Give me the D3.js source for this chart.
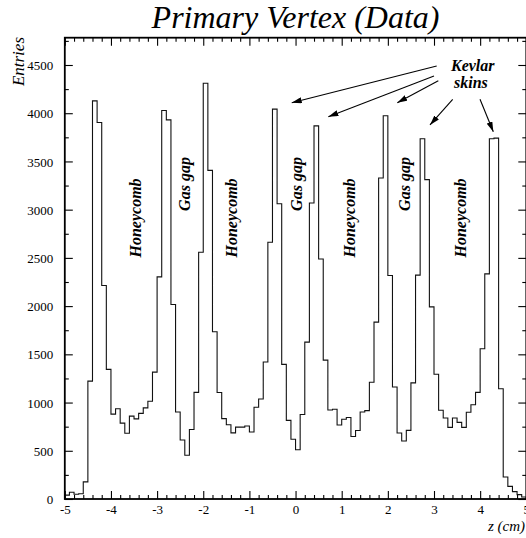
<!DOCTYPE html>
<html>
<head>
<meta charset="utf-8">
<script src="https://cdn.jsdelivr.net/npm/d3@7"></script>
<style>
  html, body { margin: 0; padding: 0; background: #fff; }
  svg { display: block; }
  text { font-family: "Liberation Serif", "Times New Roman", serif; fill: #000; }
</style>
</head>
<body>
<div id="chart"></div>
<script>
// ---- data ----
const xDomain = [-5, 5];
const yDomain = [0, 4783];
// entries per 0.1 cm bin, from z = -5 to z = 5 (100 bins)
const entries = [
  40, 70, 50, 55, 178, 1222, 4128, 3904, 2213, 1344,
  880, 935, 787, 681, 859, 831, 888, 945, 1014, 1315,
  2303, 4028, 3931, 2017, 902, 612, 453, 720, 1106, 2558,
  4311, 3407, 1734, 1104, 833, 770, 686, 745, 745, 757,
  695, 951, 1037, 1420, 2662, 4042, 3062, 1396, 815, 620,
  510, 876, 1627, 3069, 3869, 2489, 1440, 923, 930, 768,
  827, 845, 648, 710, 902, 916, 1211, 1834, 3328, 3973,
  2317, 1162, 684, 602, 712, 1204, 2321, 3735, 3311, 1992,
  1294, 920, 840, 743, 840, 795, 743, 899, 978, 1106,
  1558, 2334, 3735, 3742, 1143, 228, 131, 76, 45, 21
];
const binLowEdges = entries.map((_, i) => xDomain[0] + i * (xDomain[1] - xDomain[0]) / entries.length);
const xTickValues = [-5, -4, -3, -2, -1, 0, 1, 2, 3, 4, 5];
const xTickLabels = ["-5", "-4", "-3", "-2", "-1", "0", "1", "2", "3", "4", "5"];
const yTickValues = [0, 500, 1000, 1500, 2000, 2500, 3000, 3500, 4000, 4500];
const yTickLabels = ["0", "500", "1000", "1500", "2000", "2500", "3000", "3500", "4000", "4500"];
const regionNames = ["Honeycomb", "Gas gap", "Honeycomb", "Gas gap", "Honeycomb", "Gas gap", "Honeycomb"];
const titleText = "Primary Vertex (Data)";
const yTitle = "Entries";
const xTitle = "z (cm)";
const skinLabel = ["Kevlar", "skins"];

// ---- layout (annotation anchors in data units) ----
const W = 526, H = 538;
const regionAnchorZ = [-3.349, -2.28, -1.262, 0.13, 1.289, 2.47, 3.694];
const regionAnchorV = [2914, 3266, 2914, 3266, 2914, 3266, 2914];
const arrows = [
  { from: [3.058, 4490], to: [-0.083, 4109] },
  { from: [3.000, 4386], to: [0.710, 3964] },
  { from: [3.093, 4337], to: [2.205, 4109] },
  { from: [3.405, 4144], to: [2.913, 3878] },
  { from: [3.997, 4144], to: [4.285, 3808] }
];

const svg = d3.select("#chart").append("svg").attr("width", W).attr("height", H);

const x = d3.scaleLinear().domain(xDomain).range([64.8, 526.3]);
const y = d3.scaleLinear().domain(yDomain).range([499, 37.7]);

// histogram (step outline)
const pts = binLowEdges.map((e, i) => [e, entries[i]]);
pts.push([xDomain[1], entries[entries.length - 1]]);
const line = d3.line().x(d => x(d[0])).y(d => y(d[1])).curve(d3.curveStepAfter);
const stepPath = line(pts).replace(/^M/, "L");
svg.append("path")
  .attr("d", `M${x(xDomain[0])},${y(0)}` + stepPath + `L${x(xDomain[1])},${y(0)}`)
  .attr("fill", "none").attr("stroke", "#111").attr("stroke-width", 1.1);

// axes (ROOT style: ticks inside on all four sides)
const xMinor = d3.range(-50, 51, 2).map(v => v / 10).filter(v => !xTickValues.includes(v));
const yMinor = d3.range(250, 4783, 500);

function addAxis(axisGen, transform) {
  const g = svg.append("g").attr("transform", transform).call(axisGen);
  g.select(".domain").remove();
  g.selectAll(".tick line").attr("stroke", "#000").attr("stroke-width", 1.1);
  g.selectAll(".tick text").style("font-family", '"Liberation Serif", serif').style("font-size", "13px").attr("fill", "#000");
  return g;
}

// bottom
const xb = addAxis(d3.axisTop(x).tickValues(xTickValues).tickFormat((d, i) => xTickLabels[i]).tickSize(8).tickPadding(0), `translate(0,${y(0)})`);
xb.selectAll(".tick text").attr("y", 15).attr("dy", 0);
addAxis(d3.axisTop(x).tickValues(xMinor).tickFormat("").tickSize(4), `translate(0,${y(0)})`);
// top
addAxis(d3.axisBottom(x).tickValues(xTickValues).tickFormat("").tickSize(8), `translate(0,${y.range()[1]})`);
addAxis(d3.axisBottom(x).tickValues(xMinor).tickFormat("").tickSize(4), `translate(0,${y.range()[1]})`);
// left
const yl = addAxis(d3.axisRight(y).tickValues(yTickValues).tickFormat((d, i) => yTickLabels[i]).tickSize(8), `translate(${x.range()[0]},0)`);
yl.selectAll(".tick text").attr("text-anchor", "end").attr("x", -11.5).attr("dy", "0.35em");
addAxis(d3.axisRight(y).tickValues(yMinor).tickFormat("").tickSize(4), `translate(${x.range()[0]},0)`);
// right
addAxis(d3.axisLeft(y).tickValues(yTickValues).tickFormat("").tickSize(8), `translate(${x.range()[1]},0)`);
addAxis(d3.axisLeft(y).tickValues(yMinor).tickFormat("").tickSize(4), `translate(${x.range()[1]},0)`);

// frame
svg.append("rect")
  .attr("x", x.range()[0]).attr("y", y.range()[1])
  .attr("width", x.range()[1] - x.range()[0]).attr("height", y.range()[0] - y.range()[1])
  .attr("fill", "none").attr("stroke", "#000").attr("stroke-width", 1.8);

// titles
svg.append("text").attr("x", (x.range()[0] + x.range()[1]) / 2).attr("y", 28)
  .attr("text-anchor", "middle").style("font-style", "italic").style("font-size", "32px").text(titleText);
svg.append("text").attr("transform", `translate(24,37) rotate(-90)`)
  .attr("text-anchor", "end").style("font-style", "italic").style("font-size", "17px").text(yTitle);
svg.append("text").attr("x", 525).attr("y", 531)
  .attr("text-anchor", "end").style("font-style", "italic").style("font-size", "15px").text(xTitle);

// region labels
regionNames.forEach((name, i) => {
  svg.append("text")
    .attr("transform", `translate(${x(regionAnchorZ[i])},${y(regionAnchorV[i])}) rotate(-90)`)
    .attr("text-anchor", "middle")
    .style("font-style", "italic").style("font-weight", "bold").style("font-size", "16px")
    .text(name);
});

// Kevlar skins label
svg.append("text").attr("x", x(3.84)).attr("y", y(4438)).attr("text-anchor", "middle")
  .style("font-style", "italic").style("font-weight", "bold").style("font-size", "16px").text(skinLabel[0]);
svg.append("text").attr("x", x(3.80)).attr("y", y(4262)).attr("text-anchor", "middle")
  .style("font-style", "italic").style("font-weight", "bold").style("font-size", "16px").text(skinLabel[1]);

// arrows
svg.append("defs").append("marker")
  .attr("id", "ah").attr("viewBox", "0 0 10 6").attr("refX", 10).attr("refY", 3)
  .attr("markerWidth", 10).attr("markerHeight", 6).attr("markerUnits", "userSpaceOnUse").attr("orient", "auto")
  .append("path").attr("d", "M0,0L10,3L0,6Z").attr("fill", "#000");
arrows.forEach(a => {
  svg.append("line")
    .attr("x1", x(a.from[0])).attr("y1", y(a.from[1]))
    .attr("x2", x(a.to[0])).attr("y2", y(a.to[1]))
    .attr("stroke", "#000").attr("stroke-width", 1.1)
    .attr("marker-end", "url(#ah)");
});
</script>
</body>
</html>
